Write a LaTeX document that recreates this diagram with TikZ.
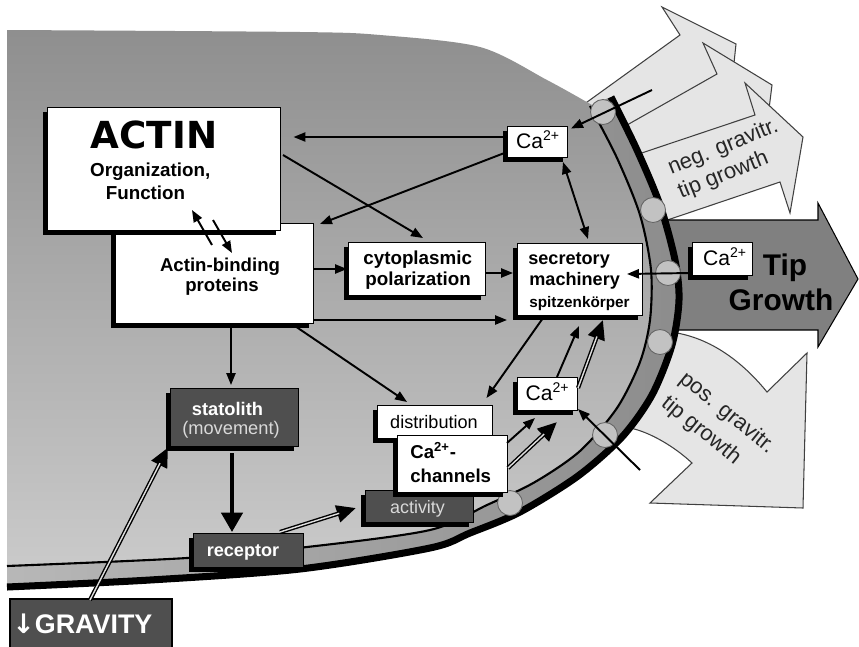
\documentclass[tikz,border=0pt]{standalone}
\usepackage{fontspec}
\setmainfont{Liberation Sans}
\newfontfamily\djv{DejaVu Sans}
\usetikzlibrary{arrows.meta,shadows}
\definecolor{cellA}{gray}{0.56}
\definecolor{cellB}{gray}{0.80}
\definecolor{bandL}{gray}{0.72}
\definecolor{bandR}{gray}{0.55}
\definecolor{lightarr}{gray}{0.90}
\definecolor{tiparr}{gray}{0.50}
\definecolor{darkbox}{gray}{0.31}
\definecolor{circ}{gray}{0.76}
\definecolor{lighttext}{gray}{0.85}
\newcommand\sizept[1]{\fontsize{#1}{16}\selectfont}
\begin{document}
\begin{tikzpicture}[x=0.02cm,y=-0.02cm,
 sz/.style 2 args={minimum width=#1*0.02cm,minimum height=#2*0.02cm},
 shad/.style={drop shadow={shadow xshift=-0.09cm,shadow yshift=-0.09cm,fill=black,opacity=1}},
 wbox/.style={shape=rectangle,draw=black,line width=0.5pt,fill=white,shad,inner sep=0pt},
 dbox/.style={shape=rectangle,draw=black,line width=0.5pt,fill=darkbox,shad,inner sep=0pt},
 txt/.style={inner sep=0pt,anchor=base},
 txtw/.style={inner sep=0pt,anchor=base west},
 conn/.style={line width=1.1pt,-{Triangle[length=6.8pt,width=5.2pt]}},
 conntwo/.style={line width=1.1pt,{Triangle[length=6.8pt,width=5.2pt]}-{Triangle[length=6.8pt,width=5.2pt]}},
 bigconn/.style={line width=2.3pt,-{Triangle[length=11pt,width=12pt]}},
 dblconn/.style={line width=2.4pt,-{Triangle[length=11pt,width=9.5pt]},postaction={draw=gray!25,line width=0.8pt,-,shorten >=10pt}},
 fatarr/.style={draw=black!75,line width=0.6pt,fill=lightarr,line join=miter},
 memdot/.style={shape=circle,draw=black!60,line width=0.5pt,fill=circ,minimum size=25*0.02cm,inner sep=0pt},
]
\useasboundingbox (0,0) rectangle (859,646);
\fill[white] (0,0) rectangle (859,646);

% outside arrows (behind the cell)
\draw[fatarr] (540,136) -- (680,35) -- (662,7) -- (736,44) -- (728,120) -- (716,95) -- (580,170) -- cycle;
\draw[fatarr] (590,146) -- (717,74) -- (703,43) -- (772,85) -- (762,165) -- (750,140) -- (630,195) -- cycle;
\draw[fatarr] (600,167) -- (755,115) -- (745,83) -- (803,137) -- (790,213) -- (780,182) -- (620,236) -- cycle;
\draw[draw=black,line width=0.6pt,fill=tiparr,line join=miter] (640,220) -- (818,220) -- (818,203) -- (858,279) -- (818,347) -- (818,330) -- (640,330) -- cycle;
\draw[fatarr] (600,420) -- (620,330) -- (677,333) .. controls (715,340) and (745,365) .. (767,392) -- (807,353) -- (803,508) -- (650,503) -- (692,463) .. controls (675,447) and (650,432) .. (630,428) -- cycle;

% cell
\shade[top color=cellA,bottom color=cellB]
  plot[smooth] coordinates {(7,30) (300,32) (380,35) (480,47) (547,80) (592,105)}
  -- plot[smooth] coordinates {(611,97) (637,150) (660,205) (675,260) (679,300) (672,345) (652,395) (622,437) (578,476) (520,512) (470,533) (430,548) (300,569) (150,580) (7,587)}
  -- cycle;
\shade[left color=bandL,right color=bandR]
  plot[smooth] coordinates {(590,106) (617,158) (640,215) (651,270) (650,320) (640,362) (617,408) (580,451) (535,482) (487,505) (430,530) (307,547) (187,558) (7,566)}
  -- plot[smooth] coordinates {(7,587) (150,580) (300,569) (430,548) (470,533) (520,512) (578,476) (622,437) (652,395) (672,345) (679,300) (675,260) (660,205) (637,150) (611,97)}
  -- cycle;
\draw[line width=1.2pt] plot[smooth] coordinates {(590,106) (617,158) (640,215) (651,270) (650,320) (640,362) (617,408) (580,451) (535,482) (487,505) (430,530) (307,547) (187,558) (7,566)};
\draw[line width=4pt] plot[smooth] coordinates {(611,97) (637,150) (660,205) (675,260) (679,300) (672,345) (652,395) (622,437) (578,476) (520,512) (470,533) (430,548) (300,569) (150,580) (7,587)};

% channels in the membrane
\node[memdot] (m1) at (603,112) {};
\node[memdot] (m2) at (653,210) {};
\node[memdot] (m3) at (668,273) {};
\node[memdot] (m4) at (660,342) {};
\node[memdot] (m5) at (605,435) {};
\node[memdot] (m6) at (510,503) {};

% texts on the outside arrows
\node[txtw,rotate=22,font=\sizept{12.5},text=black!85] (negA) at (671,175) {neg. gravitr.};
\node[txtw,rotate=22,font=\sizept{12.5},text=black!85] (negB) at (681,199) {tip growth};
\node[txtw,rotate=-39,font=\sizept{12.5},text=black!85] (posA) at (678,381) {pos. gravitr.};
\node[txtw,rotate=-39,font=\sizept{12.5},text=black!85] (posB) at (660,405) {tip growth};
\node[txt,font=\bfseries\sizept{17}] (tiptxt) at (785,275) {Tip};
\node[txt,font=\bfseries\sizept{17}] (growtxt) at (781,310) {Growth};

% boxes
\node[wbox,sz={198}{100}] (abp) at (214,273) {};
\node[wbox,sz={233}{123}] (actin) at (163.5,168.5) {};
\node[wbox,sz={137}{53}] (cyto) at (416.5,268.5) {};
\node[wbox,sz={125}{72}] (sec) at (579.5,279) {};
\node[wbox,sz={60}{31}] (ca1) at (537,141.5) {};
\node[wbox,sz={60}{33}] (ca2) at (547,393.5) {};
\node[wbox,sz={60}{33}] (ca3) at (722,258.5) {};
\node[dbox,sz={108}{32}] (act) at (419,506) {};
\node[wbox,sz={115}{33}] (dist) at (434.5,421.5) {};
\node[wbox,sz={110}{57}] (chan) at (452,463.5) {};
\node[dbox,sz={128}{58}] (stat) at (234,417) {};
\node[dbox,sz={110}{34}] (rec) at (248,550) {};
\node[draw=black,line width=0.8pt,fill=darkbox,sz={162}{52},inner sep=0pt] (grav) at (91,625) {};

% box texts
\node[txt,font=\djv\bfseries\sizept{21.2}] (actintxt) at (154,148) {ACTIN};
\node[txt,font=\bfseries\sizept{10.7}] (orgtxt) at (150.3,176) {Organization,};
\node[txt,font=\bfseries\sizept{10.7}] (functxt) at (145.5,199) {Function};
\node[txt,font=\bfseries\sizept{10.6}] (abptxtA) at (220,271) {Actin-binding};
\node[txt,font=\bfseries\sizept{10.6}] (abptxtB) at (222,291) {proteins};
\node[txtw,font=\bfseries\sizept{10.7}] (cytotxtA) at (363,264) {cytoplasmic};
\node[txtw,font=\bfseries\sizept{10.7}] (cytotxtB) at (365,285) {polarization};
\node[txtw,font=\bfseries\sizept{10.3}] (sectxtA) at (528,264) {secretory};
\node[txtw,font=\bfseries\sizept{10.3}] (sectxtB) at (529,285) {machinery};
\node[txtw,font=\bfseries\sizept{8.7}] (sectxtC) at (529,307) {spitzenkörper};
\node[txt,font=\sizept{12}] (ca1txt) at (538,148) {Ca\textsuperscript{2+}};
\node[txt,font=\sizept{12}] (ca2txt) at (547.5,400) {Ca\textsuperscript{2+}};
\node[txt,font=\sizept{12}] (ca3txt) at (725,265) {Ca\textsuperscript{2+}};
\node[txt,font=\sizept{10.3}] (disttxt) at (434,428) {distribution};
\node[txtw,font=\bfseries\sizept{10.6}] (chantxtA) at (410,458) {Ca\textsuperscript{2+}-};
\node[txtw,font=\bfseries\sizept{10.6}] (chantxtB) at (410,482) {channels};
\node[txt,font=\sizept{10.2},text=lighttext] (acttxt) at (417.5,513) {activity};
\node[txt,font=\bfseries\sizept{10.4},text=white] (stattxtA) at (227.5,415) {statolith};
\node[txt,font=\sizept{10.4},text=lighttext] (stattxtB) at (231,434) {(movement)};
\node[txt,font=\bfseries\sizept{10.3},text=white] (rectxt) at (243,556) {receptor};
\node[txtw,font=\bfseries\sizept{15.3},text=white] (gravtxt) at (12,633) {{\djv ↓}GRAVITY};

% free ends
\coordinate (topout) at (652,90);
\coordinate (botout) at (640,470);

% connectors
\draw[conn] ([shift={(-30,-4.5)}]ca1.center) -- ([shift={(130,-31.5)}]actin.center);
\draw[conn] ([shift={(119.5,-13.5)}]actin.center) -- ([shift={(6.5,-30.5)}]cyto.center);
\draw[conn] ([shift={(-30,10.5)}]ca1.center) -- ([shift={(106,-49)}]abp.center);
\draw[conn] ([shift={(-2,-28)}]abp.center) -- ([shift={(28.5,41.5)}]actin.center);
\draw[conn] ([shift={(49.5,51.5)}]actin.center) -- ([shift={(18,-20)}]abp.center);
\draw[conn] ([shift={(99,-4)}]abp.center) -- ([shift={(-69.5,0.5)}]cyto.center);
\draw[conn] ([shift={(69.5,4.5)}]cyto.center) -- ([shift={(-66.5,-6)}]sec.center);
\draw[conn] ([shift={(99,47)}]abp.center) -- ([shift={(-72.5,41)}]sec.center);
\draw[conntwo] ([shift={(26,20.5)}]ca1.center) -- ([shift={(8.5,-40)}]sec.center);
\draw[conn] ([shift={(17,51)}]abp.center) -- ([shift={(-3,-32)}]stat.center);
\draw[conn] ([shift={(78,51)}]abp.center) -- ([shift={(-27.5,-19.5)}]dist.center);
\draw[conn] ([shift={(-36.5,39)}]sec.center) -- ([shift={(52,-23.5)}]dist.center);
\draw[conn] ([shift={(10,-16.5)}]ca2.center) -- ([shift={(-0.5,47)}]sec.center);
\draw[dblconn] ([shift={(31,-5.5)}]ca2.center) -- ([shift={(23.5,41)}]sec.center);
\draw[conn] ([shift={(55,-20.5)}]chan.center) -- ([shift={(-12,24.5)}]ca2.center);
\draw[dblconn] ([shift={(56,4.5)}]chan.center) -- ([shift={(10,28.5)}]ca2.center);
\draw[bigconn] ([shift={(-2,36)}]stat.center) -- ([shift={(-16,-18)}]rec.center);
\draw[dblconn] ([shift={(-1,-25)}]grav.center) -- ([shift={(-66,30.5)}]stat.center);
\draw[dblconn] ([shift={(32,-18)}]rec.center) -- ([shift={(-63,2)}]act.center);
\draw[conn] (topout) -- ([shift={(34,-13)}]ca1.center);
\draw[conn] ([shift={(-32,14.5)}]ca3.center) -- ([shift={(47.5,-5)}]sec.center);
\draw[conn] (botout) -- ([shift={(31,15.5)}]ca2.center);
\end{tikzpicture}
\end{document}
